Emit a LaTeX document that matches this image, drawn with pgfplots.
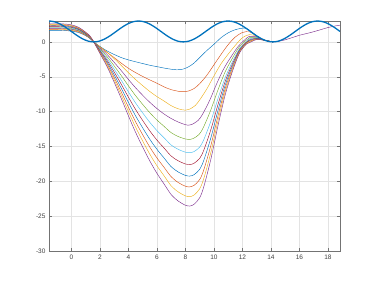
\documentclass[border=0pt]{standalone}
\usepackage{pgfplots}
\pgfplotsset{compat=1.18}
\usepackage{fontspec}
\setmainfont{Liberation Sans}
\definecolor{m1}{rgb}{0,0.447,0.741}
\definecolor{m2}{rgb}{0.850,0.325,0.098}
\definecolor{m3}{rgb}{0.929,0.694,0.125}
\definecolor{m4}{rgb}{0.494,0.184,0.556}
\definecolor{m5}{rgb}{0.466,0.674,0.188}
\definecolor{m6}{rgb}{0.301,0.745,0.933}
\definecolor{m7}{rgb}{0.635,0.078,0.184}
\begin{document}
\begin{tikzpicture}
\begin{axis}[name=ax, scale only axis, width=291pt, height=230pt,
  xmin=-1.5708, xmax=18.8496, ymin=-30, ymax=3,
  xtick={0,2,...,18}, ytick={-30,-25,...,0},
  grid=major, major grid style={color=black!11, line width=0.4pt},
  axis line style={black!55, line width=0.5pt},
  tick style={black!55, line width=0.4pt}, tick align=inside, major tick length=3pt,
  ticklabel style={font=\fontsize{6.5}{7}\selectfont, text=black!75},
  /pgf/number format/assume math mode=true,
  every axis plot/.append style={line width=0.45pt, smooth, no markers}]
\addplot[m1] coordinates {(-1.5708,1.65) (-1,1.65) (-0.5,1.63) (0,1.55) (0.5,1.35) (1,0.9) (1.3,0.48) (1.5708,0) (2,-0.65) (2.5,-1.3) (3,-1.8) (3.5,-2.25) (4,-2.58) (4.5,-2.85) (5,-3.1) (5.5,-3.35) (6,-3.55) (6.5,-3.75) (7,-3.92) (7.4,-4.0) (7.8,-3.92) (8.2,-3.6) (8.6,-3.05) (9,-2.25) (9.5,-1.25) (10,-0.35) (10.5,0.6) (11,1.3) (11.5,1.75) (12,1.97) (12.3,1.93) (12.6,1.5) (13,0.88) (13.5,0.3) (14.137,0)};
\addplot[m2] coordinates {(-1.5708,1.75) (-1,1.75) (-0.5,1.72) (0,1.64) (0.5,1.43) (1,0.95) (1.3,0.52) (1.5708,0) (2,-0.72) (2.5,-1.5) (3,-2.25) (3.5,-3.05) (4,-3.78) (4.5,-4.4) (5,-4.95) (5.5,-5.45) (6,-5.93) (6.5,-6.45) (7,-6.85) (7.5,-7.08) (7.85,-7.15) (8.2,-7.05) (8.6,-6.7) (9,-6.0) (9.5,-4.8) (10,-3.3) (10.5,-1.8) (11,-0.4) (11.5,0.7) (12,1.35) (12.5,1.45) (13,0.86) (13.5,0.29) (14.137,0)};
\addplot[m3] coordinates {(-1.5708,1.84) (-1,1.84) (-0.5,1.81) (0,1.73) (0.5,1.5) (1,1.0) (1.3,0.55) (1.5708,0) (2,-0.69) (2.5,-1.47) (3,-2.4) (3.5,-3.38) (4,-4.41) (4.5,-5.39) (5,-6.27) (5.5,-7.11) (6,-7.84) (6.5,-8.48) (7,-9.15) (7.5,-9.6) (8,-9.8) (8.3,-9.65) (8.7,-9.11) (9,-8.33) (9.5,-6.76) (10,-4.9) (10.5,-3.14) (11,-1.76) (11.5,-0.5) (12,0.6) (12.5,1.05) (13,0.8) (13.5,0.28) (14.137,0)};
\addplot[m4] coordinates {(-1.5708,1.94) (-1,1.94) (-0.5,1.91) (0,1.82) (0.5,1.58) (1,1.05) (1.3,0.59) (1.5708,0) (2,-0.84) (2.5,-1.79) (3,-2.93) (3.5,-4.12) (4,-5.38) (4.5,-6.57) (5,-7.65) (5.5,-8.66) (6,-9.56) (6.5,-10.34) (7,-10.99) (7.5,-11.5) (8,-11.88) (8.2,-11.95) (8.5,-11.8) (8.9,-11.25) (9.2,-10.4) (9.7,-8.4) (10.2,-5.98) (10.7,-3.82) (11.2,-2.15) (11.7,-0.66) (12.2,0.36) (12.5,0.8) (13,0.72) (13.5,0.28) (14.137,0)};
\addplot[m5] coordinates {(-1.5708,2.03) (-1,2.03) (-0.5,2.0) (0,1.91) (0.5,1.65) (1,1.1) (1.3,0.63) (1.5708,0) (2,-0.98) (2.5,-2.1) (3,-3.43) (3.5,-4.83) (4,-6.3) (4.5,-7.7) (5,-8.96) (5.5,-10.15) (6,-11.2) (6.5,-12.11) (7,-13.02) (7.5,-13.58) (8,-13.93) (8.25,-14.0) (8.55,-13.86) (8.95,-13.3) (9.25,-12.32) (9.75,-9.94) (10.25,-7.1) (10.75,-4.48) (11.25,-2.52) (11.75,-0.82) (12.25,0.22) (12.5,0.6) (13,0.65) (13.5,0.28) (14.137,0)};
\addplot[m6] coordinates {(-1.5708,2.13) (-1,2.13) (-0.5,2.1) (0,2.0) (0.5,1.73) (1,1.15) (1.3,0.67) (1.5708,0) (2,-1.11) (2.5,-2.39) (3,-3.9) (3.5,-5.49) (4,-7.16) (4.5,-8.75) (5,-10.18) (5.5,-11.53) (6,-12.72) (6.5,-13.75) (7,-14.79) (7.5,-15.42) (8,-15.82) (8.3,-15.9) (8.6,-15.74) (9,-15.1) (9.3,-13.99) (9.8,-11.29) (10.3,-8.05) (10.8,-5.09) (11.3,-2.86) (11.8,-0.97) (12.3,0.13) (12.5,0.45) (13,0.58) (13.5,0.27) (14.137,0)};
\addplot[m7] coordinates {(-1.5708,2.22) (-1,2.22) (-0.5,2.19) (0,2.09) (0.5,1.8) (1,1.2) (1.3,0.7) (1.5708,0) (2,-1.23) (2.5,-2.64) (3,-4.31) (3.5,-6.07) (4,-7.92) (4.5,-9.68) (5,-11.26) (5.5,-12.76) (6,-14.08) (6.5,-15.22) (7,-16.37) (7.5,-17.07) (8,-17.51) (8.3,-17.6) (8.6,-17.42) (9,-16.72) (9.3,-15.49) (9.8,-12.5) (10.3,-8.9) (10.8,-5.63) (11.3,-3.17) (11.8,-1.11) (12.3,0.0) (12.5,0.3) (13,0.52) (13.5,0.27) (14.137,0)};
\addplot[m1] coordinates {(-1.5708,2.32) (-1,2.32) (-0.5,2.29) (0,2.18) (0.5,1.88) (1,1.25) (1.3,0.74) (1.5708,0) (2,-1.35) (2.5,-2.89) (3,-4.72) (3.5,-6.64) (4,-8.66) (4.5,-10.59) (5,-12.32) (5.5,-13.96) (6,-15.4) (6.5,-16.65) (7,-17.9) (7.5,-18.67) (8,-19.15) (8.3,-19.25) (8.6,-19.06) (9,-18.29) (9.3,-16.94) (9.8,-13.67) (10.3,-9.73) (10.8,-6.16) (11.3,-3.47) (11.8,-1.24) (12.3,-0.09) (12.5,0.2) (13,0.47) (13.5,0.26) (14.137,0)};
\addplot[m2] coordinates {(-1.5708,2.41) (-1,2.41) (-0.5,2.38) (0,2.27) (0.5,1.95) (1,1.3) (1.3,0.78) (1.5708,0) (2,-1.46) (2.5,-3.12) (3,-5.1) (3.5,-7.18) (4,-9.36) (4.5,-11.44) (5,-13.31) (5.5,-15.08) (6,-16.64) (6.5,-17.99) (7,-19.34) (7.5,-20.18) (8,-20.7) (8.3,-20.8) (8.6,-20.59) (9,-19.76) (9.3,-18.3) (9.8,-14.77) (10.3,-10.5) (10.8,-6.66) (11.3,-3.74) (11.8,-1.36) (12.3,-0.12) (12.5,0.1) (13,0.42) (13.5,0.26) (14.137,0)};
\addplot[m3] coordinates {(-1.5708,2.51) (-1,2.51) (-0.5,2.48) (0,2.36) (0.5,2.03) (1,1.35) (1.3,0.81) (1.5708,0) (2,-1.55) (2.5,-3.33) (3,-5.44) (3.5,-7.66) (4,-9.99) (4.5,-12.21) (5,-14.21) (5.5,-16.1) (6,-17.76) (6.5,-19.2) (7,-20.65) (7.5,-21.53) (8,-22.09) (8.3,-22.2) (8.6,-21.98) (9,-21.09) (9.3,-19.54) (9.8,-15.76) (10.3,-11.2) (10.8,-7.1) (11.3,-4.0) (11.8,-1.48) (12.3,-0.19) (12.5,0.0) (13,0.38) (13.5,0.25) (14.137,0)};
\addplot[m4] coordinates {(-1.5708,2.6) (-1,2.6) (-0.5,2.57) (0,2.45) (0.5,2.1) (1,1.4) (1.3,0.85) (1.5708,0) (2,-1.65) (2.5,-3.53) (3,-5.77) (3.5,-8.12) (4,-10.6) (4.5,-12.95) (5,-15.07) (5.5,-17.07) (6,-18.84) (6.5,-20.37) (7,-21.9) (7.5,-22.84) (8,-23.43) (8.3,-23.55) (8.6,-23.31) (9,-22.37) (9.3,-20.72) (9.8,-16.72) (10.3,-11.9) (10.8,-7.54) (11.3,-4.24) (11.8,-1.58) (12.3,-0.27) (12.5,-0.1) (13,0.34) (13.5,0.25) (14.137,0) (14.5,0.06) (15,0.3) (15.5,0.62) (16,0.95) (16.5,1.2) (17,1.46) (17.5,1.76) (18,2.06) (18.5,2.28) (18.8496,2.4)};
\addplot[m1, line width=1.3pt] coordinates {(-1.5708,3) (-1.1781,2.8858) (-0.7854,2.5607) (-0.3927,2.0740) (0,1.5) (0.3927,0.9260) (0.7854,0.4393) (1.1781,0.1142) (1.5708,0) (1.9635,0.1142) (2.3562,0.4393) (2.7489,0.9260) (3.1416,1.5) (3.5343,2.0740) (3.9270,2.5607) (4.3197,2.8858) (4.7124,3) (5.1051,2.8858) (5.4978,2.5607) (5.8905,2.0740) (6.2832,1.5) (6.6759,0.9260) (7.0686,0.4393) (7.4613,0.1142) (7.8540,0) (8.2467,0.1142) (8.6394,0.4393) (9.0321,0.9260) (9.4248,1.5) (9.8175,2.0740) (10.2102,2.5607) (10.6029,2.8858) (10.9956,3) (11.3883,2.8858) (11.7810,2.5607) (12.1737,2.0740) (12.5664,1.5) (12.9591,0.9260) (13.3518,0.4393) (13.7445,0.1142) (14.1372,0) (14.5299,0.1142) (14.9226,0.4393) (15.3153,0.9260) (15.7080,1.5) (16.1007,2.0740) (16.4934,2.5607) (16.8861,2.8858) (17.2788,3) (17.6715,2.8858) (18.0642,2.5607) (18.4569,2.0740) (18.8496,1.5)};
\end{axis}
\path (ax.south west) ++(-49pt,-31pt) rectangle ([shift={(36pt,21pt)}]ax.north east);
\end{tikzpicture}
\end{document}
